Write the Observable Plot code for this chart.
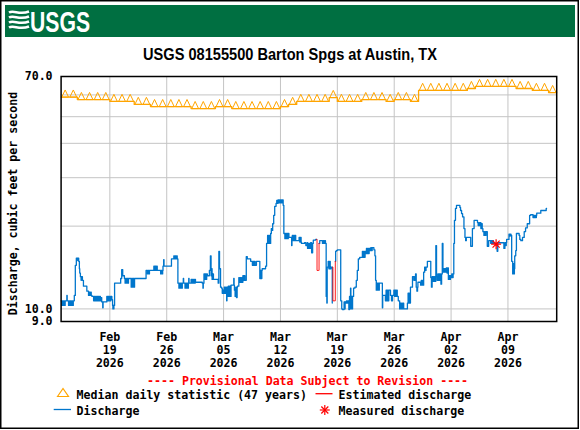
<!DOCTYPE html>
<html><head><meta charset="utf-8">
<script src="https://cdn.jsdelivr.net/npm/d3@7"></script>
<script src="https://cdn.jsdelivr.net/npm/@observablehq/plot@0.6"></script>
<style>
html,body{margin:0;padding:0;background:#fff;}
#wrap{position:relative;width:580px;height:430px;overflow:hidden;background:#fff;}
#chart svg{position:absolute;left:0;top:0;}
#overlay{position:absolute;left:0;top:0;pointer-events:none;}
.mono{font-family:'DejaVu Sans Mono',monospace;font-weight:bold;font-size:11.6px;}
</style></head>
<body>
<div id="wrap">
<div id="chart"></div>
<svg id="overlay" width="580" height="430" viewBox="0 0 580 430">
  <rect x="0.75" y="0.75" width="577.5" height="427.5" fill="none" stroke="#000" stroke-width="1.5"/>
  <rect x="5" y="5" width="570" height="32" fill="#006F41"/>
  <g stroke="#fff" stroke-width="2.6" fill="none" stroke-linecap="butt">
    <path d="M9 12.5 C14 9.5, 19 15.5, 29 11.5"/>
    <path d="M9 17.5 C14 14.5, 19 20.5, 29 16.5"/>
    <path d="M9 22.5 C14 19.5, 19 25.5, 29 21.5"/>
    <path d="M9 27.5 C14 24.5, 19 30.5, 29 26.5"/>
  </g>
  <text x="30" y="31.5" fill="#fff" font-family="'Liberation Sans Narrow','Liberation Sans',Arial,sans-serif" font-weight="bold" font-size="29" textLength="60" lengthAdjust="spacingAndGlyphs">USGS</text>
  <text x="290" y="60" text-anchor="middle" fill="#000" font-family="'Liberation Sans Narrow','Liberation Sans',Arial,sans-serif" font-weight="bold" font-size="17" textLength="294" lengthAdjust="spacingAndGlyphs">USGS 08155500 Barton Spgs at Austin, TX</text>
  <text class="mono" transform="translate(17.3,203.5) rotate(-90)" text-anchor="middle" fill="#000">Discharge, cubic feet per second</text>
  <text class="mono" x="147" y="384.5" fill="#ff0000">---- Provisional Data Subject to Revision ----</text>
  <polygon points="57.5,396.5 63,388.5 68.5,396.5" fill="none" stroke="#FFA500" stroke-width="1.2"/>
  <text class="mono" x="76.6" y="398.5" fill="#000">Median daily statistic (47 years)</text>
  <line x1="315.5" y1="393.7" x2="332.5" y2="393.7" stroke="#ff0000" stroke-width="1.3"/>
  <text class="mono" x="338.5" y="398.5" fill="#000">Estimated discharge</text>
  <line x1="53.7" y1="409.5" x2="71" y2="409.5" stroke="#0076cc" stroke-width="1.3"/>
  <text class="mono" x="76.6" y="414.5" fill="#000">Discharge</text>
  <g stroke="#ff0000" stroke-width="1.2">
    <line x1="319.8" y1="410" x2="329.8" y2="410"/>
    <line x1="324.8" y1="405" x2="324.8" y2="415"/>
    <line x1="321.3" y1="406.5" x2="328.3" y2="413.5"/>
    <line x1="321.3" y1="413.5" x2="328.3" y2="406.5"/>
  </g>
  <text class="mono" x="338.5" y="414.5" fill="#000">Measured discharge</text>
</svg>
</div>
<script>
// ---- data ----
const weekTicks = ["2026-02-19","2026-02-26","2026-03-05","2026-03-12","2026-03-19","2026-03-26","2026-04-02","2026-04-09"];
const yTickValues = [9, 10, 70];
const yGridValues = [10, 20, 30, 40, 50, 60];
const periodStart = "2026-02-13";
const periodEnd = "2026-04-15";

// median daily statistic (47 years), one value per day from Feb 13 to Apr 14
const medianCfs = [
58.9,58.9, 57.7,57.7,57.7,57.7, 56.8,56.8,56.8, 55.4,55.4, 54.4,54.4,54.4,54.4,54.4,
53.5,53.5,53.5, 54.4,54.4, 53.5,53.5,53.5,53.5,53.5,53.5, 54.4, 55.4,
56.8,56.8,56.8,56.8, 58.7, 56.8,56.8,56.8, 57.7,57.7,57.7, 56.8, 57.7,57.7, 56.8,
62.3,62.3,62.3,62.3,62.3,62.3, 63.3, 64.4,64.4,64.4,64.4,64.4, 63.3,63.3, 62.3,62.3, 61.2];

// discharge (MM-DD HH, cfs); NaN marks a break where values are estimated
const discharge = [
["02-13 00",10.7],["02-13 02",10.3],["02-13 04",10.7],["02-13 06",10.3],["02-13 08",10.7],["02-13 10",10.3],["02-13 12",10.7],
["02-13 17",11.2],["02-13 18",10.7],["02-13 22",10.3],["02-14 00",10.7],["02-14 01",10.3],["02-14 03",10.7],["02-14 06",10.3],
["02-14 08",10.7],["02-14 10",10.3],["02-14 12",10.7],["02-14 15",11.2],["02-14 18",14.4],["02-14 21",15.3],["02-15 01",15.0],
["02-15 02",15.3],["02-15 04",14.9],["02-15 06",14.0],["02-15 07",13.5],["02-15 09",13.1],["02-15 11",12.7],["02-15 12",13.1],
["02-15 15",12.7],["02-15 18",12.1],["02-16 04",11.6],["02-16 09",11.2],["02-16 11",11.5],["02-16 13",11.2],["02-16 15",11.5],
["02-16 17",11.2],["02-16 19",11.1],["02-17 00",10.7],["02-17 02",11.1],["02-17 04",10.7],["02-17 06",11.1],["02-17 08",10.7],
["02-17 10",11.1],["02-17 12",10.7],["02-17 14",11.1],["02-17 16",10.7],["02-17 18",11.1],["02-17 20",10.7],["02-17 22",11.0],
["02-18 00",10.6],["02-18 03",10.1],["02-18 04",10.6],["02-18 15",11.1],["02-18 17",10.7],["02-18 19",11.1],["02-18 21",10.7],
["02-18 23",11.1],["02-19 01",10.7],["02-19 03",11.1],["02-19 06",10.8],["02-19 08",10.3],["02-19 09",10.0],["02-19 10",10.3],
["02-19 11",10.0],["02-19 12",10.3],["02-19 14",12.4],["02-20 08",12.9],["02-20 11",13.9],["02-20 14",13.2],["02-20 19",12.9],
["02-20 21",12.4],["02-20 23",12.9],["02-21 01",12.4],["02-21 03",12.9],["02-21 05",12.4],["02-21 07",12.9],["02-21 15",12.0],
["02-21 17",12.9],["02-21 19",12.0],["02-21 21",12.9],["02-21 23",12.0],["02-22 01",12.9],["02-23 11",13.8],
["02-23 15",13.4],["02-23 17",13.8],["02-23 19",13.4],["02-23 21",13.8],["02-24 10",14.3],["02-24 12",13.8],["02-24 14",14.3],
["02-24 16",13.8],["02-24 18",14.3],["02-24 20",13.8],["02-25 06",13.4],["02-25 08",13.8],["02-25 10",13.4],["02-25 12",13.8],
["02-25 13",14.3],["02-25 15",15.1],["02-25 16",14.3],["02-26 14",15.2],["02-26 21",15.6],["02-26 23",15.2],["02-27 01",15.6],
["02-27 03",15.2],["02-27 05",15.6],["02-27 07",15.2],["02-27 09",12.4],["02-27 12",11.9],["02-27 14",12.4],["02-27 16",11.9],
["02-27 18",12.4],["02-27 20",11.9],["02-27 22",12.4],["02-28 01",12.9],["02-28 02",12.4],["02-28 06",11.9],["02-28 08",12.4],
["02-28 10",11.9],["02-28 12",12.4],["02-28 14",11.9],["02-28 16",12.4],["02-28 17",12.9],["02-28 18",12.4],["03-01 00",12.8],
["03-01 02",12.4],["03-01 04",12.8],["03-01 06",12.4],["03-01 08",12.8],["03-01 10",12.4],["03-01 12",12.8],["03-01 13",12.5],
["03-02 09",12.4],["03-02 11",11.9],["03-02 12",12.4],["03-02 14",13.4],["03-02 16",12.8],["03-02 18",13.4],["03-02 20",12.8],
["03-02 22",13.4],["03-03 00",13.2],["03-03 06",13.8],["03-03 09",15.6],["03-03 11",13.2],["03-03 12",14.0],["03-03 14",12.8],
["03-03 16",13.4],["03-03 18",12.8],["03-04 08",12.4],["03-04 10",16.2],["03-04 12",14.0],["03-04 15",12.0],["03-04 18",11.9],
["03-04 20",11.4],["03-04 22",11.7],["03-05 00",11.4],["03-05 02",12.0],["03-05 04",11.4],["03-05 06",12.0],["03-05 08",11.4],
["03-05 09",10.7],["03-05 10",12.0],["03-05 12",11.1],["03-05 14",12.1],["03-05 16",11.1],["03-05 18",12.1],["03-05 20",11.1],
["03-05 22",12.2],["03-06 06",12.9],["03-06 07",12.2],["03-06 08",11.7],["03-06 10",11.1],["03-06 12",12.0],["03-06 14",11.0],
["03-06 16",12.0],["03-06 17",12.1],["03-06 21",13.0],["03-06 23",12.5],["03-07 01",13.0],["03-07 03",12.5],["03-07 05",13.0],
["03-07 07",12.5],["03-07 09",13.2],["03-07 11",12.7],["03-07 13",13.2],["03-07 15",12.7],["03-07 19",15.5],["03-07 22",15.2],
["03-08 08",14.9],["03-08 13",14.4],["03-08 15",14.9],["03-08 17",14.4],["03-08 19",14.9],["03-08 21",14.4],["03-09 01",14.9],
["03-09 11",12.9],["03-09 13",13.8],["03-09 15",12.9],["03-09 17",13.8],["03-09 18",14.0],["03-10 04",14.3],["03-10 07",17.3],
["03-10 10",18.5],["03-10 12",17.3],["03-10 14",18.5],["03-10 16",17.3],["03-10 19",18.8],["03-10 21",19.6],["03-10 23",19.3],
["03-11 01",20.4],["03-11 04",21.9],["03-11 07",23.6],["03-11 11",24.2],["03-11 13",24.8],["03-11 15",24.2],["03-11 17",24.9],
["03-11 19",24.3],["03-11 21",24.9],["03-11 23",24.3],["03-12 01",24.9],["03-12 03",24.3],["03-12 05",24.9],["03-12 08",23.8],
["03-12 10",18.8],["03-12 13",18.0],["03-12 15",18.8],["03-12 17",18.0],["03-12 19",18.8],["03-12 21",18.0],["03-12 23",18.8],
["03-13 01",18.2],["03-13 09",17.0],["03-13 10",18.2],["03-13 11",18.5],["03-13 13",17.7],["03-13 15",18.5],["03-13 17",17.7],
["03-13 19",18.5],["03-13 21",17.7],["03-14 07",18.2],["03-14 09",17.5],["03-14 11",18.2],["03-14 13",17.5],["03-14 14",17.3],
["03-14 23",17.4],["03-15 03",17.0],["03-15 07",17.4],["03-15 08",16.6],["03-15 10",17.3],["03-15 12",16.6],["03-15 14",17.3],
["03-15 16",16.6],["03-15 17",17.4],["03-15 20",16.0],["03-15 23",17.3],["03-16 01",17.8],["03-16 08",17.9],["03-16 11",17.9],
["03-16 12",NaN],
["03-16 18",17.3],["03-16 20",17.7],["03-17 04",17.3],["03-17 06",17.7],["03-17 08",17.3],["03-17 10",17.7],["03-17 13",17.3],
["03-17 15",11.1],["03-17 17",10.5],["03-17 18",14.2],["03-17 21",14.9],["03-17 23",14.0],["03-18 01",14.9],["03-18 03",14.0],
["03-18 05",14.2],["03-18 09",10.5],
["03-18 12",NaN],
["03-18 18",14.9],["03-18 19",16.2],["03-18 21",16.3],["03-19 00",16.4],["03-19 10",10.7],["03-19 13",10.0],["03-19 15",9.95],
["03-19 20",10.6],["03-19 22",10.0],["03-19 23",10.6],["03-20 01",10.5],["03-20 03",10.7],["03-20 05",10.5],["03-20 07",10.7],
["03-20 10",9.95],["03-20 12",11.1],["03-20 14",10.0],["03-20 15",11.9],["03-20 16",10.0],["03-20 18",11.1],["03-20 20",10.0],
["03-20 21",11.1],["03-21 00",11.9],["03-21 04",12.0],["03-21 08",12.7],["03-21 11",13.8],["03-21 14",15.2],["03-21 18",15.4],
["03-22 02",16.2],["03-22 04",15.4],["03-22 06",16.2],["03-22 08",15.4],["03-22 10",16.2],["03-22 12",15.9],["03-22 14",16.6],
["03-22 16",15.9],["03-22 18",16.6],["03-22 20",15.9],["03-22 22",16.6],["03-23 01",16.3],["03-23 03",16.7],["03-23 05",16.3],
["03-23 07",16.7],["03-23 12",16.4],["03-23 15",15.6],["03-23 17",12.7],["03-23 19",11.7],["03-23 21",12.4],["03-23 23",11.7],
["03-24 01",12.4],["03-24 03",11.7],["03-24 04",12.4],["03-24 13",10.1],["03-24 14",11.2],["03-24 22",10.7],["03-25 00",11.7],
["03-25 02",10.7],["03-25 04",11.7],["03-25 06",10.7],["03-25 08",11.7],["03-25 13",11.2],["03-25 16",10.7],["03-25 19",11.2],
["03-25 23",11.7],["03-26 01",11.1],["03-26 03",11.7],["03-26 05",11.1],["03-26 07",11.7],["03-26 09",11.1],["03-26 12",10.7],
["03-26 16",10.0],["03-26 18",10.5],["03-26 20",10.0],["03-26 22",10.5],["03-27 00",10.0],["03-27 02",10.5],["03-27 04",10.0],
["03-27 15",10.5],["03-27 17",11.4],["03-27 19",10.5],["03-27 21",11.4],["03-27 23",10.5],["03-28 00",12.0],["03-28 06",13.1],
["03-28 10",12.7],["03-28 12",13.1],["03-28 14",12.7],["03-28 15",13.4],["03-28 17",12.0],["03-28 19",11.6],["03-28 21",12.0],
["03-28 22",12.5],["03-29 06",12.2],["03-29 08",12.7],["03-29 10",12.2],["03-29 12",12.7],["03-29 14",12.2],["03-29 15",13.6],
["03-29 18",14.2],["03-29 20",13.8],["03-29 22",14.2],["03-30 02",14.9],["03-30 12",13.0],["03-30 14",12.0],["03-30 16",13.1],
["03-30 18",12.6],["03-30 20",13.1],["03-30 22",12.6],["03-31 00",13.1],["03-31 02",12.6],["03-31 03",17.0],["03-31 05",13.1],
["03-31 07",12.7],["03-31 09",13.4],["03-31 11",12.7],["03-31 13",13.4],["03-31 15",12.7],["03-31 17",13.4],["03-31 18",12.3],
["03-31 20",13.4],["03-31 22",17.3],["04-01 00",13.6],["04-01 02",14.0],["04-01 04",13.6],["04-01 06",14.0],["04-01 08",13.6],
["04-01 10",14.1],["04-01 12",13.5],["04-01 14",14.1],["04-01 16",12.8],["04-01 18",13.2],["04-01 20",12.8],["04-01 22",13.2],
["04-02 00",13.0],["04-02 02",13.4],["04-02 04",13.0],["04-02 06",13.4],["04-02 08",17.3],["04-02 10",21.0],["04-02 13",23.2],
["04-02 16",23.8],["04-03 02",23.4],["04-03 04",22.8],["04-03 07",22.2],["04-03 10",21.6],["04-03 14",19.6],["04-03 17",18.2],
["04-03 19",17.7],["04-03 21",18.2],["04-04 10",16.9],["04-04 15",19.6],["04-04 20",21.0],["04-05 06",20.6],["04-05 08",20.1],
["04-05 10",20.6],["04-05 12",20.1],["04-05 14",20.6],["04-05 16",19.6],["04-05 18",20.4],["04-05 20",19.6],["04-05 22",19.1],
["04-06 01",18.5],["04-06 03",19.1],["04-06 05",18.5],["04-06 07",19.1],["04-06 11",16.9],["04-06 15",17.7],["04-06 21",17.3],
["04-06 23",17.7],["04-07 01",17.3],["04-07 03",17.7],["04-07 05",17.3],["04-07 16",16.2],["04-07 18",17.4],["04-08 12",16.6],
["04-08 15",17.4],["04-08 17",17.0],["04-08 19",17.4],["04-08 20",17.9],["04-09 03",18.7],["04-09 05",18.4],["04-09 07",18.7],
["04-09 09",18.5],["04-09 11",14.9],["04-09 14",13.4],["04-09 15",14.6],["04-09 16",13.4],["04-09 17",14.6],["04-09 18",13.4],
["04-09 19",14.0],["04-09 20",15.6],["04-09 23",16.3],["04-10 01",18.8],["04-10 09",18.5],["04-10 11",17.9],["04-10 14",17.7],
["04-10 19",18.2],["04-11 00",19.1],["04-11 04",19.7],["04-11 09",20.4],["04-11 16",21.9],["04-11 19",22.0],["04-12 02",21.5],
["04-12 04",21.9],["04-12 06",21.5],["04-12 08",21.9],["04-12 10",21.5],["04-12 12",21.9],["04-12 13",22.3],["04-13 01",22.8],
["04-13 17",23.2],["04-13 18",23.2]
];

// estimated discharge (red)
const estimated = [
["03-16 11",17.9],["03-16 12",13.8],["03-16 17",13.8],["03-16 18",17.3],
["03-17 00",NaN],
["03-18 10",14.2],["03-18 11",10.7],["03-18 17",10.7],["03-18 18",14.9]
];

// measured discharge (field measurement)
const measured = [["04-07 13",17.2]];

// ---- build chart ----
const parseHour = d3.utcParse("%Y-%m-%d %H");
const parseDay = d3.utcParse("%Y-%m-%d");
const toRows = arr => arr.map(([s, v]) => ({t: parseHour("2026-" + s), v}));
const qRows = toRows(discharge);
const estRows = toRows(estimated);
const measRows = toRows(measured);
const x0 = parseDay(periodStart), x1 = parseDay(periodEnd);
const days = d3.utcDay.range(x0, x1);
const medianRows = days.map((d, i) => ({t: d, noon: d3.utcHour.offset(d, 12), v: medianCfs[i]}));
const medianSteps = medianRows.concat([{t: x1, v: medianCfs[medianCfs.length - 1]}]);
const ticks = weekTicks.map(parseDay);

const triUp = {draw(ctx, size) {
  const r = Math.sqrt(size / Math.PI);
  ctx.moveTo(-r, 0); ctx.lineTo(0, -2.1 * r); ctx.lineTo(r, 0); ctx.closePath();
}};
const star8 = {draw(ctx, size) {
  const r = Math.sqrt(size / Math.PI);
  for (let k = 0; k < 4; k++) {
    const a = k * Math.PI / 4, c = Math.cos(a) * r, s = Math.sin(a) * r;
    ctx.moveTo(-c, -s); ctx.lineTo(c, s);
  }
}};

const gridColor = "#c4c4c4";
const chart = Plot.plot({
  width: 580,
  height: 430,
  marginLeft: 60.6,
  marginRight: 23.8,
  marginTop: 76,
  marginBottom: 109,
  style: {fontFamily: "'DejaVu Sans Mono', monospace", fontSize: "11.6px", fontWeight: "bold", background: "transparent", overflow: "visible", color: "#000"},
  x: {type: "utc", domain: [x0, x1], axis: null},
  y: {type: "log", domain: [9, 70]},
  marks: [
    Plot.gridX(ticks, {stroke: gridColor, strokeOpacity: 1, strokeWidth: 1}),
    Plot.gridY(yGridValues, {stroke: gridColor, strokeOpacity: 1, strokeWidth: 1}),
    Plot.axisY({ticks: yTickValues, tickFormat: d => d.toFixed(1), tickSize: 0, tickPadding: 8.5, label: null, fill: "#000"}),
    Plot.text(ticks, {x: d => d, text: d3.utcFormat("%b\n%d\n%Y"), frameAnchor: "bottom", lineAnchor: "top", dy: 10.8, lineHeight: 1.1, fill: "#000"}),
    Plot.line(medianSteps, {x: "t", y: "v", curve: "step-after", stroke: "#FFA500", strokeWidth: 1.3}),
    Plot.dot(medianRows, {x: "noon", y: "v", symbol: triUp, r: 3.4, stroke: "#FFA500", fill: "none", strokeWidth: 1}),
    Plot.line(qRows, {x: "t", y: "v", curve: "step-after", stroke: "#0076cc", strokeWidth: 1.3}),
    Plot.line(estRows, {x: "t", y: "v", curve: "step-after", stroke: "#ff0000", strokeWidth: 0.9}),
    Plot.dot(measRows, {x: "t", y: "v", symbol: star8, r: 5, stroke: "#ff0000", fill: "none", strokeWidth: 1.2}),
    Plot.frame({stroke: "#000", strokeWidth: 1.5})
  ]
});
document.getElementById("chart").appendChild(chart);
</script>
</body></html>
